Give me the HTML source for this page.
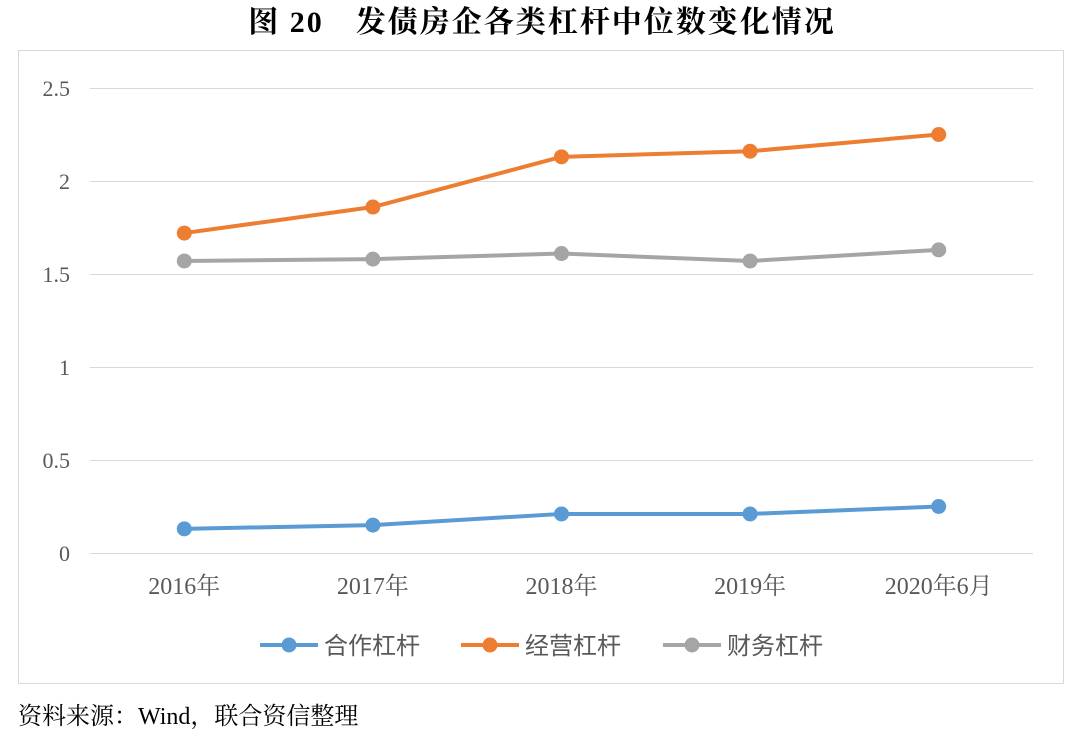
<!DOCTYPE html>
<html><head><meta charset="utf-8"><style>
body{margin:0;background:#fff;width:1080px;height:739px;overflow:hidden;font-family:"Liberation Serif","Noto Serif CJK SC",serif;}
</style></head><body>
<svg width="1080" height="739" xmlns="http://www.w3.org/2000/svg">
<text x="542" y="32" text-anchor="middle" font-size="30" font-weight="bold" letter-spacing="2" fill="#000" font-family="Liberation Serif, Noto Serif CJK SC, serif">图 20　发债房企各类杠杆中位数变化情况</text>
<rect x="18.5" y="50.5" width="1045" height="633" fill="#fff" stroke="#d9d9d9"/>
<g id="grid"></g><g id="series"></g>
<g id="legend" font-family="Liberation Sans, Noto Sans CJK SC, sans-serif" font-size="24" fill="#595959"></g>
<text x="18" y="724" font-size="24" fill="#000" font-family="Liberation Serif, Noto Serif CJK SC, serif">资料来源：Wind，联合资信整理</text>
</svg>
<script>
const categories=["2016年","2017年","2018年","2019年","2020年6月"];
const yTicks=[0,0.5,1,1.5,2,2.5];
const yTickLabels=["0","0.5","1","1.5","2","2.5"];
const seriesNames=["合作杠杆","经营杠杆","财务杠杆"];
const coopValues=[0.13,0.15,0.21,0.21,0.25];
const operValues=[1.72,1.86,2.13,2.16,2.25];
const finValues=[1.57,1.58,1.61,1.57,1.63];
const colors=["#5b9bd5","#ed7d31","#a5a5a5"];
const NS="http://www.w3.org/2000/svg";
const x0=90,x1=1033,y0=553,yTop=88;
const xs=i=>x0+(x1-x0)*(i+0.5)/categories.length;
const ys=v=>y0-(y0-yTop)*v/2.5;
function mk(tag,attrs,parent){const e=document.createElementNS(NS,tag);for(const k in attrs)e.setAttribute(k,attrs[k]);parent.appendChild(e);return e;}
const grid=document.getElementById('grid');
yTicks.forEach((t,i)=>{
 const l=mk('line',{x1:x0,x2:x1,y1:ys(t)+0.5,y2:ys(t)+0.5,stroke:'#d9d9d9','stroke-width':1},grid);
 
 
 const tx=mk('text',{x:70,y:ys(t)+8,'text-anchor':'end','font-size':22,fill:'#595959','font-family':'Liberation Serif, serif'},grid);
 tx.textContent=yTickLabels[i];
 
 
});
categories.forEach((c,i)=>{
 const tx=mk('text',{x:xs(i),y:594,'text-anchor':'middle','font-size':24,fill:'#595959','font-family':'Liberation Serif, Noto Serif CJK SC, serif'},grid);
 tx.textContent=c;
 
 
});
const sg=document.getElementById('series');
[coopValues,operValues,finValues].forEach((vals,s)=>{
 const pts=vals.map((v,i)=>xs(i)+','+ys(v)).join(' ');
 const pl=mk('polyline',{points:pts,fill:'none',stroke:colors[s],'stroke-width':4,'stroke-linejoin':'round'},sg);
 
 
 vals.forEach((v,i)=>{
  const c=mk('circle',{cx:xs(i),cy:ys(v),r:7.5,fill:colors[s]},sg);
  
  
 });
});
const lg=document.getElementById('legend');
const lx=[260,461,663];
seriesNames.forEach((n,s)=>{
 const l=mk('line',{x1:lx[s],x2:lx[s]+58,y1:645,y2:645,stroke:colors[s],'stroke-width':4},lg);
 
 
 const c=mk('circle',{cx:lx[s]+29,cy:645,r:7.5,fill:colors[s]},lg);
 
 
 const t=mk('text',{x:lx[s]+64,y:654},lg);
 t.textContent=n;
 
 
});
</script>
</body></html>
